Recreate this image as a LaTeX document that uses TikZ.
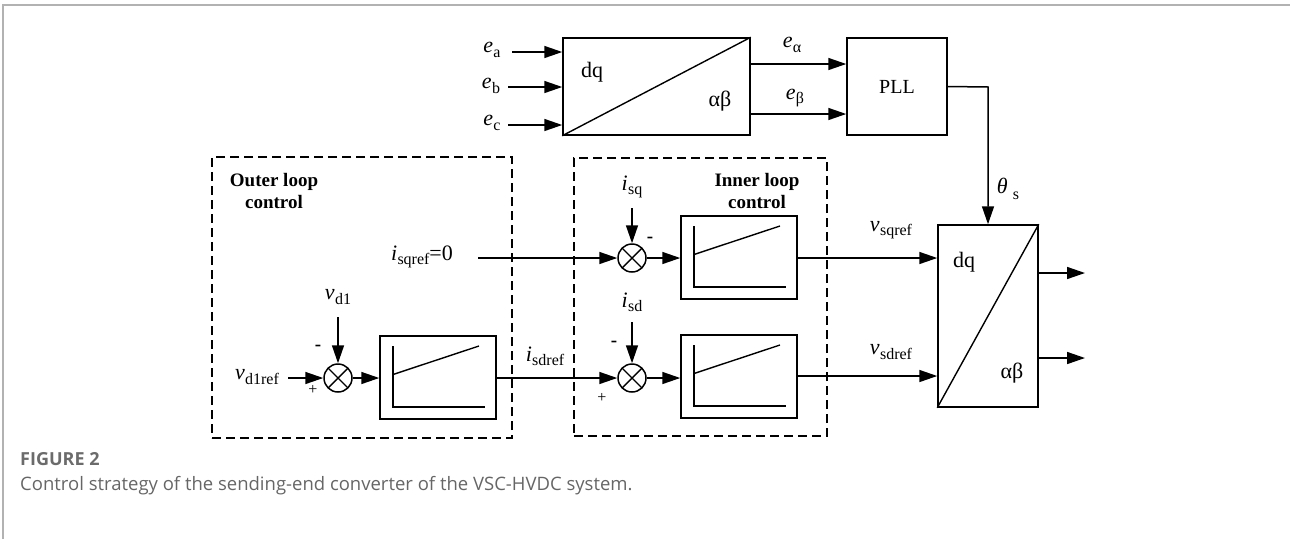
\documentclass[tikz,border=0pt]{standalone}
\usepackage{fontspec}
\setmainfont{Liberation Serif}
\newfontfamily\capfont{Open Sans}
\usetikzlibrary{arrows.meta,calc}
\newcommand\sv[2]{\textit{#1}\kern0.3pt\raisebox{-0.2em}{\fontsize{16pt}{16pt}\selectfont #2}}
\begin{document}
\begin{tikzpicture}[x=1pt,y=-1pt,
  ln/.style={line width=1.5pt},
  arr/.style={line width=1.5pt,-{Triangle[length=18pt,width=12pt]}},
  blk/.style={draw,line width=1.5pt,inner sep=0pt},
  pibox/.style={blk,minimum width=116pt,minimum height=83pt,
    path picture={
      \draw[line width=1.4pt] ([shift={(-45,-31.5)}]path picture bounding box.center)
        -- ([shift={(-45,29.5)}]path picture bounding box.center)
        -- ([shift={(47,29.5)}]path picture bounding box.center);
      \draw[line width=1.4pt] ([shift={(-45,-3)}]path picture bounding box.center)
        -- ([shift={(41,-31.5)}]path picture bounding box.center);}},
  sumnode/.style={circle,draw,line width=1.5pt,minimum size=28pt,inner sep=0pt,
    path picture={\draw[line width=1.4pt]
      (path picture bounding box.north west)--(path picture bounding box.south east)
      (path picture bounding box.north east)--(path picture bounding box.south west);}},
  dbox/.style={draw,line width=1.6pt,dash pattern=on 9pt off 5pt,inner sep=0pt},
  lab/.style={inner sep=0pt,font=\fontsize{22pt}{24pt}\selectfont},
  big/.style={inner sep=0pt,font=\fontsize{22pt}{24pt}\selectfont},
  ttl/.style={inner sep=0pt,align=center,font=\bfseries\fontsize{19pt}{22pt}\selectfont},
  sgn/.style={inner sep=0pt,font=\fontsize{16pt}{16pt}\selectfont},
  msgn/.style={inner sep=0pt,font=\bfseries\fontsize{19pt}{19pt}\selectfont},
  frame/.style={draw=black!30,line width=1.5pt}
]
\useasboundingbox (0,0) rectangle (1290,539);
% frame
\coordinate (f1) at (3,539);
\coordinate (f2) at (3,5);
\coordinate (f3) at (1290,5);
\draw[frame] (f1) -- (f2) -- (f3);

% dashed containers
\node[dbox,minimum width=300pt,minimum height=281pt] (outer) at (362,297.5) {};
\node[dbox,minimum width=253pt,minimum height=278pt] (inner) at (700.5,297) {};
\node[ttl] (outerT) at (274,191) {Outer loop\\control};
\node[ttl] (innerT) at (757,191) {Inner loop\\control};

% top transform and PLL
\node[blk,minimum width=187pt,minimum height=97pt] (tf) at (656.5,86.5) {};
\draw[line width=1.4pt] (tf.south west) -- (tf.north east);
\node[big] (tfdq) at (592,72) {dq};
\node[big] (tfab) at (720,101) {αβ};
\node[blk,minimum width=100pt,minimum height=97pt,font=\fontsize{20pt}{22pt}\selectfont] (pll) at (897,86.5) {PLL};

% right transform
\node[blk,minimum width=100pt,minimum height=182pt] (rt) at (988,316) {};
\draw[line width=1.4pt] (rt.south west) -- (rt.north east);
\node[big] (rtdq) at (964,262) {dq};
\node[big] (rtab) at (1012,373) {αβ};

% inputs e
\node[lab] (ea) at (492,50) {\sv{e}{a}};
\node[lab] (eb) at (491,86) {\sv{e}{b}};
\node[lab] (ec) at (492,123) {\sv{e}{c}};
\coordinate (ea0) at (512,52);
\coordinate (eb0) at (508,87);
\coordinate (ec0) at (508,125);
\draw[arr] (ea0) -- (ea0 -| tf.west);
\draw[arr] (eb0) -- (eb0 -| tf.west);
\draw[arr] (ec0) -- (ec0 -| tf.west);

% e alpha beta
\coordinate (eal0) at (750,64);
\coordinate (ebe0) at (750,114);
\draw[arr] (eal0) -- (eal0 -| pll.west);
\draw[arr] (ebe0) -- (ebe0 -| pll.west);
\node[lab] (eal) at (792,45) {\sv{e}{α}};
\node[lab] (ebe) at (795,98) {\sv{e}{β}};

% PLL to right transform
\coordinate (pllc) at (988,87);
\draw[arr] (pll.east) -- (pllc) -- (rt.north);
\node[lab] (theta) at (1008,189) {\textit{θ}\kern5pt\raisebox{-0.25em}{\fontsize{16pt}{16pt}\selectfont s}};

% outer loop
\node[sumnode] (s0) at (338,378) {};
\node[pibox] (pi0) at (438,377.5) {};
\node[lab] (vd1) at (338,297) {\sv{v}{d1}};
\coordinate (vd10) at (338,317);
\draw[arr] (vd10) -- (s0.north);
\node[lab] (vd1ref) at (257,377) {\sv{v}{d1ref}};
\coordinate (vr0) at (288,378);
\draw[arr] (vr0) -- (s0.west);
\draw[arr] (s0.east) -- (s0.east -| pi0.west);
\node[msgn] (m0) at (318,348) {-};
\node[sgn] (p0) at (313,390) {+};

% inner loop q
\node[sumnode] (s1) at (632,258) {};
\node[pibox] (pi1) at (739,257.5) {};
\node[lab] (isq) at (632,187) {\sv{i}{sq}};
\coordinate (isq0) at (632,208);
\draw[arr] (isq0) -- (s1.north);
\node[lab] (isqref) at (422,257) {\sv{i}{sqref}=0};
\coordinate (isqr0) at (478,258);
\draw[arr] (isqr0) -- (s1.west);
\draw[arr] (s1.east) -- (s1.east -| pi1.west);
\node[msgn] (m1) at (650,240) {-};

% inner loop d
\node[sumnode] (s2) at (632,378) {};
\node[pibox] (pi2) at (739,376.5) {};
\node[lab] (isd) at (632,302) {\sv{i}{sd}};
\coordinate (isd0) at (632,322);
\draw[arr] (isd0) -- (s2.north);
\draw[arr] (pi0.east |- s2.west) -- (s2.west);
\node[lab] (isdref) at (545,356) {\sv{i}{sdref}};
\draw[arr] (s2.east) -- (s2.east -| pi2.west);
\node[msgn] (m2) at (614,344) {-};
\node[sgn] (p2) at (602,398) {+};

% to right transform
\draw[arr] (pi1.east |- 0,258) -- (rt.west |- 0,258);
\draw[arr] (pi2.east |- 0,376) -- (rt.west |- 0,376);
\node[lab] (vsq) at (891,230) {\sv{v}{sqref}};
\node[lab] (vsd) at (891,352) {\sv{v}{sdref}};

% outputs
\coordinate (o1) at (1085,273);
\coordinate (o2) at (1085,358);
\draw[arr] (rt.east |- o1) -- (o1);
\draw[arr] (rt.east |- o2) -- (o2);

% caption
\node[anchor=west,inner sep=0pt,text=black!58,font=\capfont\bfseries\fontsize{18pt}{20pt}\selectfont] (fig) at (20,459) {FIGURE 2};
\node[anchor=west,inner sep=0pt,text=black!60,font=\capfont\fontsize{18.5pt}{20pt}\selectfont] (cap) at (20,486) {Control strategy of the sending-end converter of the VSC-HVDC system.};
\end{tikzpicture}
\end{document}
